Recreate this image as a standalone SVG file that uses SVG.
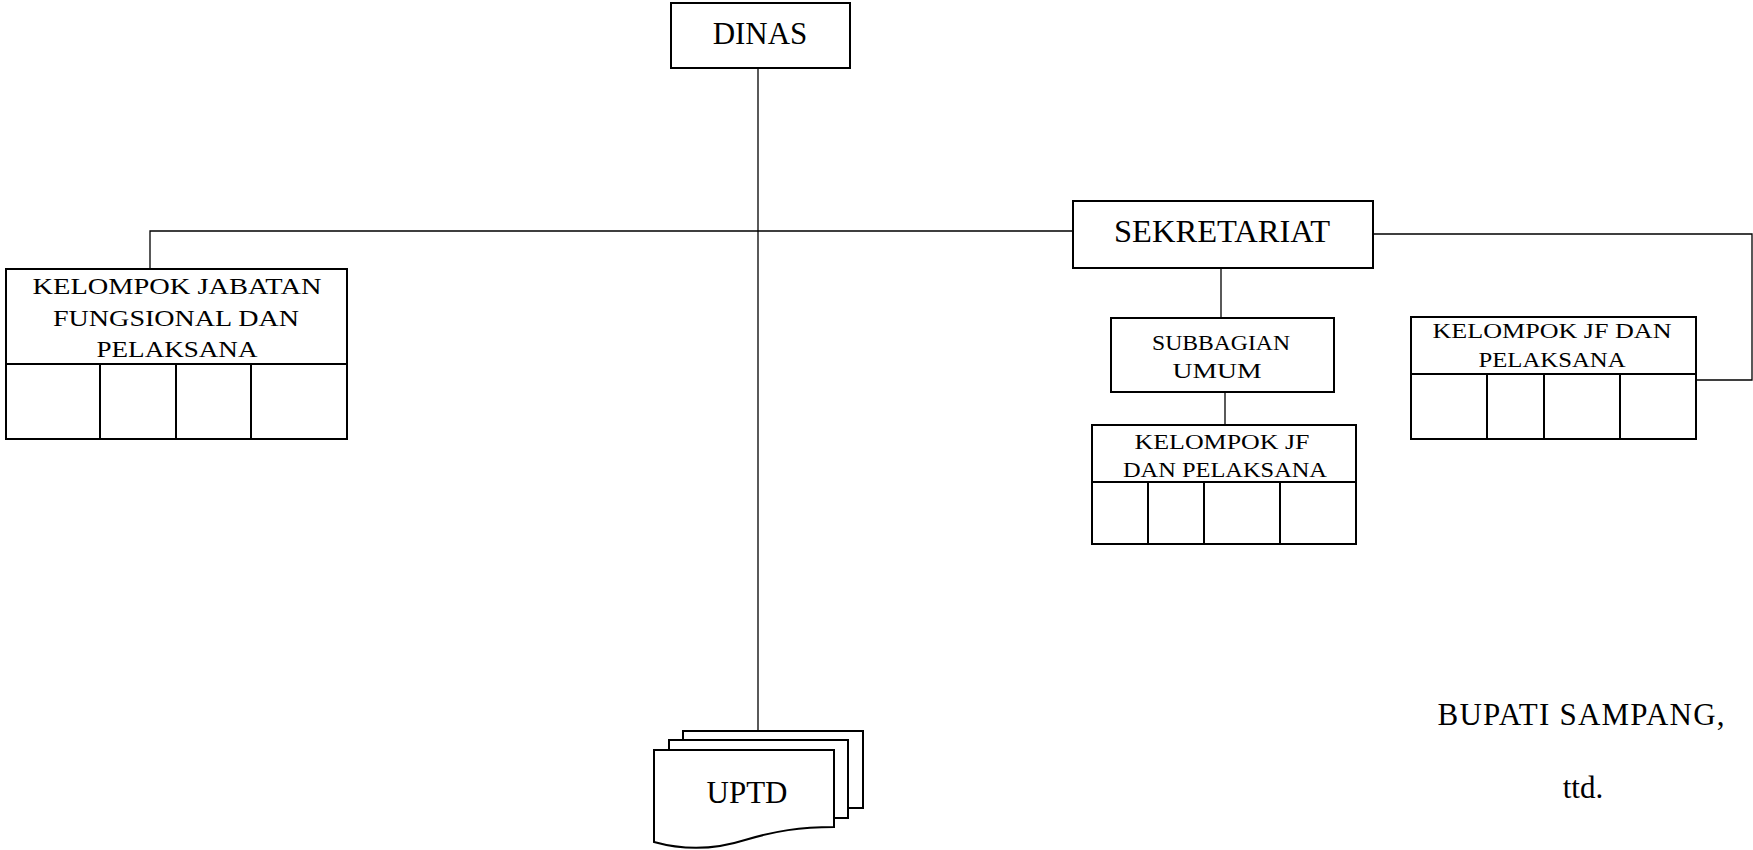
<svg xmlns="http://www.w3.org/2000/svg" width="1753" height="850" viewBox="0 0 1753 850">
<style>
.box{fill:#fff;stroke:#000;stroke-width:2}
.grid{fill:none;stroke:#000;stroke-width:2}
.conn{fill:none;stroke:#000;stroke-width:1.3}
.t{font-family:"Liberation Serif","Times New Roman",serif;font-size:31px;fill:#000;text-anchor:middle}
.b{font-family:"Liberation Serif","Times New Roman",serif;fill:#000;text-anchor:middle}
</style>
<rect width="1753" height="850" fill="#fff"/>
<g id="connectors">
<line class="conn" x1="758" y1="68" x2="758" y2="731"/>
<polyline class="conn" points="150,269 150,231 1073,231"/>
<polyline class="conn" points="1373,234 1752,234 1752,380 1694,380"/>
<line class="conn" x1="1221" y1="268" x2="1221" y2="318"/>
<line class="conn" x1="1225" y1="392" x2="1225" y2="425"/>
</g>
<g id="dinas">
<rect class="box" x="671" y="3" width="179" height="65"/>
<text class="t" x="760" y="44">DINAS</text>
</g>
<g id="sekretariat">
<rect class="box" x="1073" y="201" width="300" height="67"/>
<text class="t" x="1222" y="242" textLength="216" lengthAdjust="spacingAndGlyphs">SEKRETARIAT</text>
</g>
<g id="kelompok-jabatan">
<rect class="box" x="6" y="269" width="341" height="170"/>
<path class="grid" d="M6,364 H347 M100,364 V439 M176,364 V439 M251,364 V439"/>
<text class="b" font-size="24" x="177" y="294" textLength="289" lengthAdjust="spacingAndGlyphs">KELOMPOK JABATAN</text>
<text class="b" font-size="24" x="176" y="326" textLength="246" lengthAdjust="spacingAndGlyphs">FUNGSIONAL DAN</text>
<text class="b" font-size="24" x="177" y="357" textLength="161" lengthAdjust="spacingAndGlyphs">PELAKSANA</text>
</g>
<g id="subbagian-umum">
<rect class="box" x="1111" y="318" width="223" height="74"/>
<text class="b" font-size="21" x="1221" y="350" textLength="138" lengthAdjust="spacingAndGlyphs">SUBBAGIAN</text>
<text class="b" font-size="21" x="1217" y="378" textLength="89" lengthAdjust="spacingAndGlyphs">UMUM</text>
</g>
<g id="kelompok-jf-umum">
<rect class="box" x="1092" y="425" width="264" height="119"/>
<path class="grid" d="M1092,482 H1356 M1148,482 V544 M1204,482 V544 M1280,482 V544"/>
<text class="b" font-size="21" x="1222" y="449" textLength="175" lengthAdjust="spacingAndGlyphs">KELOMPOK JF</text>
<text class="b" font-size="21" x="1225" y="477" textLength="204" lengthAdjust="spacingAndGlyphs">DAN PELAKSANA</text>
</g>
<g id="kelompok-jf-sekretariat">
<rect class="box" x="1411" y="317" width="285" height="122"/>
<path class="grid" d="M1411,374 H1696 M1487,374 V439 M1544,374 V439 M1620,374 V439"/>
<text class="b" font-size="21" x="1552" y="338" textLength="239" lengthAdjust="spacingAndGlyphs">KELOMPOK JF DAN</text>
<text class="b" font-size="21" x="1552" y="367" textLength="147" lengthAdjust="spacingAndGlyphs">PELAKSANA</text>
</g>
<g id="uptd">
<rect class="box" x="683" y="731" width="180" height="77"/>
<rect class="box" x="669" y="740" width="179" height="78"/>
<path class="box" d="M654,750 H834 V827 C800,827 775,831 745,840 C720,848 690,852 654,842 Z"/>
<text class="t" x="747" y="803">UPTD</text>
</g>
<g id="signature">
<text class="t" x="1581" y="725" textLength="287">BUPATI SAMPANG,</text>
<text class="t" x="1583" y="798">ttd.</text>
</g>
</svg>
